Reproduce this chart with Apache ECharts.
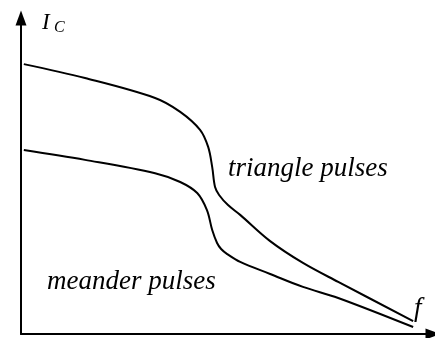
<!DOCTYPE html>
<html>
<head>
<meta charset="utf-8">
<script src="https://cdn.jsdelivr.net/npm/echarts@6/dist/echarts.min.js"></script>
<style>
  html, body { margin: 0; padding: 0; background: #fff; }
  #main { width: 435px; height: 338px; }
</style>
</head>
<body>
<div id="main"></div>
<script>
// frequency (x) and collector current (y)
const triangleX = [0.7, 15.8, 33.1, 39.3, 44.2, 46.2, 47.2, 47.9, 48.9, 51.1, 54.1, 61.5, 69.6, 78.3, 96.8];
const triangleY = [85.4, 81.0, 74.7, 70.3, 64.6, 59.2, 52.8, 46.5, 44.0, 40.8, 37.7, 29.4, 22.5, 16.5, 4.1];
const meanderX = [0.7, 15.8, 33.1, 39.3, 43.5, 45.9, 47.2, 48.4, 49.4, 50.9, 54.1, 61.5, 69.6, 78.3, 96.8];
const meanderY = [58.2, 55.1, 50.9, 48.1, 44.6, 39.2, 32.9, 28.8, 26.9, 25.3, 22.8, 19.0, 14.9, 11.4, 2.2];

const font = '"Liberation Serif", "Times New Roman", serif';

const chartDom = document.getElementById('main');
const myChart = echarts.init(chartDom);

const axisLine = {
  show: true,
  symbol: ['none', 'triangle'],
  symbolSize: [11, 15],
  lineStyle: { color: '#000', width: 2 }
};

function italic(text, left, top, size) {
  return {
    type: 'text', left: left, top: top,
    style: { text: text, fontFamily: font, fontStyle: 'italic', fontSize: size, fill: '#000' }
  };
}

const option = {
  animation: false,
  grid: { left: 21, right: 2, top: 18, bottom: 4 },
  xAxis: {
    type: 'value',
    min: 0,
    max: 101.7,
    axisLine: axisLine,
    axisTick: { show: false },
    axisLabel: { show: false },
    splitLine: { show: false }
  },
  yAxis: {
    type: 'value',
    min: 0,
    max: 100,
    axisLine: axisLine,
    axisTick: { show: false },
    axisLabel: { show: false },
    splitLine: { show: false }
  },
  graphic: [
    italic('I', 42, 11, 23),
    italic('C', 54, 20, 16),
    italic('triangle pulses', 228, 155, 27),
    italic('meander pulses', 47, 268, 27),
    italic('f', 414, 295, 27)
  ],
  series: [
    {
      name: 'triangle pulses',
      type: 'line',
      smooth: 0.35,
      symbol: 'none',
      lineStyle: { color: '#000', width: 2 },
      data: triangleX.map((x, i) => [x, triangleY[i]])
    },
    {
      name: 'meander pulses',
      type: 'line',
      smooth: 0.35,
      symbol: 'none',
      lineStyle: { color: '#000', width: 2 },
      data: meanderX.map((x, i) => [x, meanderY[i]])
    }
  ]
};
option && myChart.setOption(option);
</script>
</body>
</html>
